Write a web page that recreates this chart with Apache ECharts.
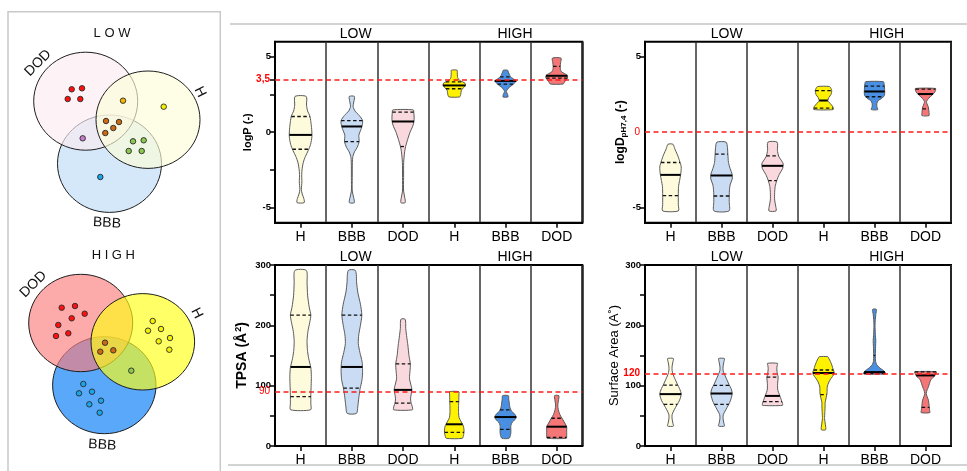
<!DOCTYPE html>
<html>
<head>
<meta charset="utf-8">
<script src="https://cdn.jsdelivr.net/npm/echarts@6/dist/echarts.min.js"></script>
<style>
  html, body { margin: 0; padding: 0; background: #fff; }
  #chart { width: 967px; height: 471px; }
</style>
</head>
<body>
<div id="chart"></div>
<script>
// ---------- categories ----------
const groups = ['H', 'BBB', 'DOD', 'H', 'BBB', 'DOD'];
const levels = ['LOW', 'HIGH'];

// ---------- violin profiles: [value, relative density] ----------
const logPProfiles = [
  [[-4.67,3.3],[-4.4,3.0],[-4.1,1.5],[-3.8,0.7],[-3.3,1.2],[-2.9,1.0],[-2.5,1.3],[-2.0,2.5],[-1.6,4.5],[-1.2,7.2],[-0.8,9.3],[-0.3,10.5],[0.2,10.3],[0.7,9.5],[1.1,8.5],[1.4,6.5],[1.8,5.5],[2.37,5.2]],
  [[-4.67,2.3],[-4.3,1.6],[-3.9,0.4],[-3.0,0.4],[-2.0,0.5],[-1.6,1.0],[-1.3,2.5],[-1.0,5.0],[-0.62,6.8],[-0.2,6.5],[0.1,8],[0.4,9.5],[0.77,10],[1.1,7],[1.4,3],[1.7,1.2],[2.0,1.8],[2.37,2.4]],
  [[-4.67,2],[-4.3,1.5],[-3.9,0.5],[-3,0.5],[-2,0.6],[-1.3,1.5],[-0.95,2.4],[-0.5,4.2],[0,6.5],[0.4,9],[0.71,10.2],[1.0,10.3],[1.3,10],[1.48,9.5]],
  [[2.34,5],[2.5,6],[2.75,6.5],[2.95,8.5],[3.1,10.5],[3.25,10],[3.4,6],[3.55,3.5],[3.7,3],[3.95,2.8],[4.11,2.7]],
  [[2.34,2.3],[2.5,2],[2.7,0.8],[2.9,2.5],[3.05,5],[3.2,7.5],[3.4,10],[3.55,7],[3.7,4.5],[3.85,3.5],[4.0,2.6],[4.11,2]],
  [[3.19,6],[3.3,7],[3.45,8.5],[3.6,10],[3.75,10],[3.9,7],[4.0,4.5],[4.15,3.5],[4.35,3.3],[4.6,3.6],[4.91,4]]
];
const logPMedian = [-0.18, 0.38, 0.71, 3.1, 3.4, 3.74];
const logPQ1 = [-1.13, -0.62, -0.95, 2.88, 3.19, 3.58];
const logPQ3 = [1.04, 0.77, 1.33, 3.33, 3.67, 4.36];
const logPCutoff = 3.5;

const logDProfiles = [
  [[-5.22,7.3],[-4.8,7.3],[-4.2,7.3],[-3.6,7.5],[-3.2,8.5],[-2.8,9.5],[-2.3,10],[-1.9,8.5],[-1.5,6.5],[-1.1,4],[-0.8,2.3]],
  [[-5.22,7],[-4.6,7.2],[-4.0,7.3],[-3.5,8],[-3.1,10],[-2.8,10],[-2.4,8],[-2.0,6.5],[-1.5,6],[-1.0,5.5],[-0.66,4.3]],
  [[-5.22,3.3],[-4.9,3],[-4.5,2],[-4.0,2],[-3.6,2.5],[-3.2,4],[-2.8,6.3],[-2.4,9.5],[-2.1,10],[-1.9,8.5],[-1.6,5.8],[-1.2,4.6],[-0.66,4.3]],
  [[1.5,9],[1.65,9],[1.8,7.5],[2.0,5],[2.1,4],[2.3,5],[2.5,7],[2.75,7.7],[2.9,7],[3.03,5.5]],
  [[1.5,3],[1.7,2.2],[1.9,2.2],[2.1,3.5],[2.25,7],[2.45,9.3],[2.7,9.5],[3.0,9.3],[3.2,9],[3.35,8.3]],
  [[1.1,3.3],[1.3,3.3],[1.5,3],[1.7,2.5],[1.9,1.3],[2.05,1],[2.25,3],[2.45,6],[2.6,8],[2.75,9.3],[2.9,9.3]]
];
const logDMedian = [-2.83, -2.87, -2.23, 2.1, 2.7, 2.53];
const logDQ1 = [-4.2, -4.23, -3.21, 1.6, 2.35, 1.55];
const logDQ3 = [-2.01, -1.46, -1.57, 2.76, 3.05, 2.85];
const logDCutoff = 0;

const tpsaProfiles = [
  [[60,9.3],[70,9.5],[85,9.5],[100,9.8],[115,10],[130,9.5],[145,7.5],[160,6.3],[175,6],[190,6.8],[205,8.5],[217,9.5],[230,8],[250,6.5],[270,6],[291,5.3]],
  [[54,4.3],[65,5.5],[80,6.5],[95,7.7],[110,9.5],[125,10],[140,9.5],[155,7.5],[170,6],[185,6.5],[200,8],[217,9.3],[235,8],[255,5.5],[270,4.5],[291,3.3]],
  [[60,8.7],[66,8.5],[71,7.5],[78,7],[85,7.5],[93,8.3],[100,7.5],[112,6],[125,6.5],[136,6.8],[150,5.5],[167,4.5],[180,3.5],[195,2.5],[210,2]],
  [[12.7,7.5],[17,8.5],[22,9],[28,9],[34,8.3],[40,6.5],[47,4.5],[55,4],[65,4],[75,4.2],[85,4.3],[90,4.3]],
  [[12.7,3.3],[17,4.5],[22,5],[28,5],[34,5],[40,6.5],[44,9],[48,10],[53,8.5],[58,5.5],[65,4],[72,3.5],[78,3],[83.4,2.7]],
  [[12.7,9],[16,9.3],[22,9.3],[28,9.3],[32,9.3],[38,7.5],[45,5.3],[52,3],[60,1.5],[68,1],[75,1.6],[83.4,2]]
];
const tpsaMedian = [131, 131, 93, 36, 48, 32];
const tpsaQ1 = [82, 96, 71, 22.6, 27.6, 14.4];
const tpsaQ3 = [217, 217, 136, 73.5, 60, 46];
const tpsaCutoff = 90;

const saProfiles = [
  [[33,2.7],[38,2.2],[45,1.5],[52,1.5],[60,3.5],[68,6],[76,8.5],[86,10],[95,8.5],[102,6.5],[110,4.5],[118,2.5],[125,1.5],[132,1.5],[140,2.3],[145,2.7]],
  [[33,2.7],[38,2.2],[45,1.5],[52,1.7],[60,4],[68,6.5],[76,8.5],[87,10],[95,9],[102,7],[110,5],[118,3],[125,1.5],[132,1.5],[140,2.3],[145,2.7]],
  [[67.4,9.3],[71,9.3],[75,8.5],[80,7.5],[85,6.5],[92,5],[100,4.7],[108,5],[114,5.3],[120,4.5],[128,4],[133,4.3],[137,4.7]],
  [[27,2],[35,1.8],[45,1],[55,1.2],[65,1.5],[72,1.5],[80,2.5],[88,3.3],[98,3.5],[106,5],[112,7],[118,9.5],[122,10],[127,9],[133,8],[140,6.5],[145,5],[148,4]],
  [[119.5,10],[122,10],[125,8.5],[128,6],[131,4],[135,2],[140,1],[150,0.8],[165,1],[175,1.2],[185,0.8],[200,0.5],[210,0.8],[218,1.2],[226.5,1.7]],
  [[55.3,4],[60,3.8],[65,3.5],[70,3.2],[76,2.7],[82,1.5],[87,0.7],[93,1.5],[98,2.7],[104,3.8],[110,5],[115,8],[119,9.5],[123,10]]
];
const saMedian = [86, 87, 83, 121, 122.5, 117];
const saQ1 = [69, 69, 73.5, 85, 120, 64];
const saQ3 = [101, 100.6, 114, 126, 150, 123];
const saCutoff = 120;

// ---------- Venn diagrams: [cx, cy, rx, ry], drawn BBB, DOD, H ----------
const vennSets = ['BBB', 'DOD', 'H'];
const lowVennCircles = [[109.5,163.7,52,48.7],[85.7,101.2,52,49],[148,119.7,52,48.7]];
const highVennCircles = [[104.3,385.2,51.7,48.5],[80.7,323,52,48.7],[142.8,341.8,51.8,48.2]];
// compounds: [x, y, membership]
const lowVennPoints = [
  [71.7,89.3,'DOD'],[82,88.3,'DOD'],[67.7,99,'DOD'],[80.3,99,'DOD'],
  [123,100.7,'DOD+H'],[163.7,106.7,'H'],
  [106,121,'ALL'],[119,122,'ALL'],[113.3,128,'ALL'],[105.3,133,'ALL'],
  [82.7,138.3,'DOD+BBB'],
  [133,141.3,'H+BBB'],[143.7,140.3,'H+BBB'],[128.7,151,'H+BBB'],[141.7,151,'H+BBB'],
  [100.3,177,'BBB']
];
const highVennPoints = [
  [61.7,307.7,'DOD'],[75,306,'DOD'],[84.7,313.7,'DOD'],[71.7,318.3,'DOD'],[58.3,325,'DOD'],[68.3,333.3,'DOD'],[56,336,'DOD'],
  [152.7,321,'H'],[148,330.7,'H'],[161,329,'H'],[170,338,'H'],[158.7,341.3,'H'],[169.3,349.7,'H'],
  [105,342.7,'ALL'],[113.3,350.3,'ALL'],[100.3,351.7,'ALL'],
  [131.3,370.7,'H+BBB'],
  [83.3,384,'BBB'],[92,391.7,'BBB'],[79,393.3,'BBB'],[101,400.7,'BBB'],[89.3,404.3,'BBB'],[99.7,412.7,'BBB']
];

// ---------- styling ----------
const FONT = "'Liberation Sans', Arial, Helvetica, sans-serif";
const violinFills = ['#fdfbdc', '#c9dcf4', '#f9d9dd', '#fff200', '#4a90e2', '#f47676'];
const lowVennFills = ['rgba(190,220,247,0.65)', 'rgba(252,235,240,0.65)', 'rgba(254,254,217,0.65)'];
const highVennFills = ['rgba(1,121,247,0.65)', 'rgba(250,124,124,0.65)', 'rgba(255,255,20,0.65)'];
const pointColors = {
  'DOD': '#ff1010', 'H': '#f4f000', 'BBB': '#1aa6ea', 'DOD+H': '#f5b400',
  'ALL': '#cc6a12', 'DOD+BBB': '#c57cc8', 'H+BBB': '#8cc850'
};

const panels = [
  { left: 275, top: 41.7, width: 307.3, height: 181 },
  { left: 645, top: 41.7, width: 306, height: 181 },
  { left: 275, top: 265, width: 307.3, height: 181 },
  { left: 645, top: 265, width: 306, height: 181 }
];

function densityAt(profile, v) {
  if (v <= profile[0][0]) return profile[0][1];
  for (let j = 1; j < profile.length; j++) {
    const v1 = profile[j][0], d1 = profile[j][1];
    if (v <= v1) {
      const v0 = profile[j - 1][0], d0 = profile[j - 1][1];
      return d0 + (d1 - d0) * (v - v0) / (v1 - v0);
    }
  }
  return profile[profile.length - 1][1];
}

function violinSeries(idx, profiles, med, q1, q3, cutoff, cutoffLabel, cutoffBold) {
  return {
    type: 'custom',
    xAxisIndex: idx,
    yAxisIndex: idx,
    data: groups.map((g, i) => [i, med[i]]),
    encode: { x: 0, y: 1 },
    clip: false,
    z: 3,
    renderItem(params, api) {
      const i = params.dataIndex;
      const prof = profiles[i];
      const band = api.size([1, 0])[0];
      const k = band * 0.021;
      const cx = api.coord([i, prof[0][0]])[0];
      const right = [], left = [];
      prof.forEach(p => {
        const y = api.coord([i, p[0]])[1];
        right.push([cx + p[1] * k, y]);
        left.push([cx - p[1] * k, y]);
      });
      const pts = right.concat(left.reverse());
      const stat = (v, solid) => {
        const hw = densityAt(prof, v) * k;
        const y = api.coord([i, v])[1];
        return {
          type: 'line',
          shape: { x1: cx - hw, y1: y, x2: cx + hw, y2: y },
          style: solid
            ? { stroke: '#000', lineWidth: 2 }
            : { stroke: '#111', lineWidth: 1.3, lineDash: [3.5, 2.5] }
        };
      };
      return {
        type: 'group',
        children: [
          { type: 'polygon', shape: { points: pts, smooth: 0.25 },
            style: { fill: violinFills[i], stroke: '#5a5a5a', lineWidth: 1 } },
          stat(q1[i], false), stat(q3[i], false), stat(med[i], true)
        ]
      };
    },
    markLine: {
      silent: true,
      symbol: 'none',
      z: 5,
      lineStyle: { color: '#ff1a1a', type: [5, 3.5], width: 1.5 },
      label: {
        position: 'start', formatter: cutoffLabel, color: '#ff0000',
        fontSize: 10, fontWeight: cutoffBold ? 'bold' : 'normal', fontFamily: FONT, distance: 5
      },
      data: [{ yAxis: cutoff }]
    }
  };
}

function xAxisCfg(idx) {
  return {
    type: 'category', gridIndex: idx, data: groups, boundaryGap: true,
    axisLine: { show: true, onZero: false, lineStyle: { color: '#000', width: 2 } },
    axisTick: { show: true, alignWithLabel: true, interval: 0, length: 5, lineStyle: { color: '#000', width: 1.5 } },
    axisLabel: { interval: 0, color: '#000', fontSize: 14, fontFamily: FONT, margin: 7 },
    splitLine: { show: true, interval: 0, lineStyle: { color: '#333', width: 1.5 } }
  };
}

function yAxisCfg(idx, min, max, labelVals, tickVals, name, nameGap, nameStyle) {
  return {
    type: 'value', gridIndex: idx, min: min, max: max,
    axisLine: { show: true, onZero: false, lineStyle: { color: '#000', width: 2 } },
    axisTick: { show: true, length: 5, customValues: tickVals, lineStyle: { color: '#000', width: 1.5 } },
    axisLabel: { customValues: labelVals, color: '#000', fontSize: 9.5, fontWeight: 'bold', fontFamily: FONT, margin: 4 },
    splitLine: { show: false },
    name: name, nameLocation: 'middle', nameGap: nameGap,
    nameTextStyle: Object.assign({ color: '#000', fontFamily: FONT }, nameStyle)
  };
}

const areaTicks = [0, 50, 100, 150, 200, 250, 300];

const grids = panels.map(p => Object.assign({ show: true, borderColor: '#000', borderWidth: 2, backgroundColor: 'transparent' }, p));
grids.push({ left: 0, top: 0, width: 230, height: 471, show: false });

const xAxes = [0, 1, 2, 3].map(xAxisCfg);
xAxes.push({ type: 'value', gridIndex: 4, min: 0, max: 230, show: false });

const yAxes = [
  yAxisCfg(0, -6, 6, [-5, 0, 5], [-5, -2.5, 0, 2.5, 3.5, 5], 'logP (-)', 22,
    { fontSize: 11, fontWeight: 'bold' }),
  yAxisCfg(1, -6, 6, [-5, 5], [-5, 5], 'logD{sub|pH7,4} (-)', 17,
    { fontSize: 12, fontWeight: 'bold', rich: { sub: { fontSize: 8, fontWeight: 'bold', fontFamily: FONT, color: '#000', padding: [6, 0, 0, 0] } } }),
  yAxisCfg(2, 0, 300, [0, 100, 200, 300], areaTicks, 'TPSA (Å{sup|2})', 25,
    { fontSize: 14, fontWeight: 'bold', rich: { sup: { fontSize: 9, fontWeight: 'bold', fontFamily: FONT, color: '#000', padding: [0, 0, 7, 1] } } }),
  yAxisCfg(3, 0, 300, [0, 100, 200, 300], areaTicks, 'Surface Area (A˚)', 24,
    { fontSize: 13, fontWeight: 'normal' })
];
yAxes.push({ type: 'value', gridIndex: 4, min: 0, max: 471, inverse: true, show: false });

function vennCircleSeries(circles, fills) {
  return {
    type: 'custom', xAxisIndex: 4, yAxisIndex: 4, z: 2,
    data: circles, encode: { x: 0, y: 1 }, clip: false, silent: true,
    renderItem(params, api) {
      const c = api.coord([api.value(0), api.value(1)]);
      const s = api.size([api.value(2), api.value(3)]);
      return {
        type: 'ellipse',
        shape: { cx: c[0], cy: c[1], rx: s[0], ry: s[1] },
        style: { fill: fills[params.dataIndex], stroke: '#1e1e1e', lineWidth: 1 }
      };
    }
  };
}

function vennPointSeries(points) {
  return {
    type: 'scatter', xAxisIndex: 4, yAxisIndex: 4, z: 4, silent: true,
    symbolSize: 5.5,
    data: points.map(p => ({ value: [p[0], p[1]], itemStyle: { color: pointColors[p[2]] } })),
    itemStyle: { borderColor: '#2a2a2a', borderWidth: 0.9, opacity: 1 }
  };
}

function levelTitles(top, x1, x2) {
  return [
    { type: 'text', x: x1, y: top, style: { text: levels[0], font: '14px ' + FONT, fill: '#000', align: 'center', verticalAlign: 'middle' } },
    { type: 'text', x: x2, y: top, style: { text: levels[1], font: '14px ' + FONT, fill: '#000', align: 'center', verticalAlign: 'middle' } }
  ];
}

function vennLabel(text, x, y, rot, size) {
  return { type: 'text', x: x, y: y, rotation: rot,
    style: { text: text, font: size + 'px ' + FONT, fill: '#111', align: 'center', verticalAlign: 'middle' } };
}

const graphics = [
  { type: 'rect', shape: { x: 8, y: 11.7, width: 212.3, height: 480 }, style: { fill: 'none', stroke: '#c9c9c9', lineWidth: 1.5 }, z: -1 },
  { type: 'line', shape: { x1: 230, y1: 24, x2: 967, y2: 24 }, style: { stroke: '#c4c4c4', lineWidth: 1.5 } },
  { type: 'line', shape: { x1: 228, y1: 465, x2: 967, y2: 465 }, style: { stroke: '#c4c4c4', lineWidth: 1.5 } }
]
  .concat(levelTitles(34, 355.7, 515))
  .concat(levelTitles(34, 726.7, 886.7))
  .concat(levelTitles(256.7, 355.7, 515))
  .concat(levelTitles(256.7, 726.7, 886.7))
  .concat([
    vennLabel('L O W', 112, 33.5, 0, 13),
    vennLabel('DOD', 38, 63, Math.PI / 4, 14),
    vennLabel('H', 200, 92, -1.1, 14),
    vennLabel('BBB', 107, 223, -0.06, 14),
    vennLabel('H I G H', 113.3, 255.7, 0, 13),
    vennLabel('DOD', 33.3, 284.3, Math.PI / 4, 14),
    vennLabel('H', 196.7, 313.3, -1.1, 14),
    vennLabel('BBB', 102.3, 445, -0.06, 14)
  ]);

const option = {
  animation: false,
  backgroundColor: '#fff',
  textStyle: { fontFamily: FONT },
  grid: grids,
  xAxis: xAxes,
  yAxis: yAxes,
  graphic: graphics,
  series: [
    violinSeries(0, logPProfiles, logPMedian, logPQ1, logPQ3, logPCutoff, '3,5', true),
    violinSeries(1, logDProfiles, logDMedian, logDQ1, logDQ3, logDCutoff, '0', false),
    violinSeries(2, tpsaProfiles, tpsaMedian, tpsaQ1, tpsaQ3, tpsaCutoff, '90', false),
    violinSeries(3, saProfiles, saMedian, saQ1, saQ3, saCutoff, '120', true),
    vennCircleSeries(lowVennCircles, lowVennFills),
    vennCircleSeries(highVennCircles, highVennFills),
    vennPointSeries(lowVennPoints),
    vennPointSeries(highVennPoints)
  ]
};

const chart = echarts.init(document.getElementById('chart'), null, { renderer: 'canvas' });
chart.setOption(option);
</script>
</body>
</html>
